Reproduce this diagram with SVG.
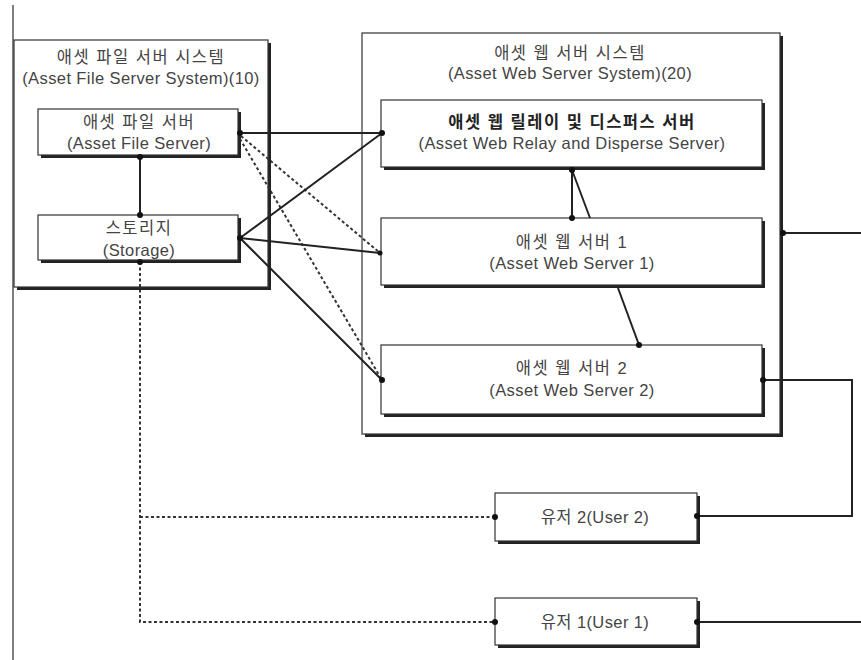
<svg xmlns="http://www.w3.org/2000/svg" width="861" height="660" viewBox="0 0 861 660">
<style>
.box{fill:#fff;stroke:#333;stroke-width:1.2}
.sh{fill:#222}
.t{font-family:"Liberation Sans","Noto Sans CJK KR",sans-serif;font-size:16.5px;fill:#444;text-anchor:middle;letter-spacing:0.4px}
.k{letter-spacing:1.5px}
.b{font-weight:bold;fill:#222}
.c{fill:none;stroke:#222;stroke-width:2}
.d{fill:none;stroke:#333;stroke-width:2;stroke-dasharray:3,2.5}
.dot{fill:#111}
</style>
<rect width="861" height="660" fill="#fff"/>
<line x1="13" y1="5" x2="13" y2="660" stroke="#555" stroke-width="1.5"/>

<g id="file-server-system">
<rect class="sh" x="17" y="43" width="254" height="247"/>
<rect class="box" x="14" y="40" width="254" height="247"/>
<text class="t k" x="141" y="63">애셋 파일 서버 시스템</text>
<text class="t" x="141" y="84">(Asset File Server System)(10)</text>
</g>
<g id="asset-file-server">
<rect class="sh" x="41" y="112" width="200" height="46"/>
<rect class="box" x="38" y="109" width="200" height="46"/>
<text class="t k" x="139" y="128">애셋 파일 서버</text>
<text class="t" x="139" y="149">(Asset File Server)</text>
</g>
<g id="storage">
<rect class="sh" x="41" y="218" width="200" height="45"/>
<rect class="box" x="38" y="215" width="200" height="45"/>
<text class="t k" x="139" y="234">스토리지</text>
<text class="t" x="139" y="256">(Storage)</text>
</g>

<g id="web-server-system">
<rect class="sh" x="365" y="36" width="418" height="401"/>
<rect class="box" x="362" y="33" width="418" height="401"/>
<text class="t k" x="570" y="59">애셋 웹 서버 시스템</text>
<text class="t" x="570" y="79">(Asset Web Server System)(20)</text>
</g>
<g id="relay-server">
<rect class="sh" x="384" y="103" width="381" height="67"/>
<rect class="box" x="381" y="100" width="381" height="67"/>
<text class="t k b" x="572" y="128">애셋 웹 릴레이 및 디스퍼스 서버</text>
<text class="t" x="572" y="149">(Asset Web Relay and Disperse Server)</text>
</g>
<g id="web-server-1">
<rect class="sh" x="384" y="221" width="381" height="67"/>
<rect class="box" x="381" y="218" width="381" height="67"/>
<text class="t k" x="572" y="248">애셋 웹 서버 1</text>
<text class="t" x="572" y="269">(Asset Web Server 1)</text>
</g>
<g id="web-server-2">
<rect class="sh" x="384" y="348" width="381" height="69"/>
<rect class="box" x="381" y="345" width="381" height="69"/>
<text class="t k" x="572" y="374">애셋 웹 서버 2</text>
<text class="t" x="572" y="396">(Asset Web Server 2)</text>
</g>
<g id="user-2">
<rect class="sh" x="498" y="496" width="202" height="48"/>
<rect class="box" x="495" y="493" width="202" height="48"/>
<text class="t" x="595" y="523">유저 2(User 2)</text>
</g>
<g id="user-1">
<rect class="sh" x="498" y="601" width="202" height="47"/>
<rect class="box" x="495" y="598" width="202" height="47"/>
<text class="t" x="595" y="628">유저 1(User 1)</text>
</g>

<g id="connectors">
<line class="c" x1="140" y1="155" x2="140" y2="215"/>
<path class="d" d="M140,262 V622 H495 M140,517 H495"/>
<line class="c" x1="240" y1="133" x2="382" y2="133"/>
<line class="d" x1="241" y1="136" x2="380" y2="253"/>
<line class="d" x1="240" y1="139" x2="382" y2="380"/>
<line class="c" x1="240" y1="238" x2="382" y2="133"/>
<line class="c" x1="240" y1="238" x2="380" y2="253"/>
<line class="c" x1="240" y1="238" x2="382" y2="380"/>
<line class="c" x1="572" y1="170" x2="572" y2="218"/>
<line class="c" x1="572" y1="170" x2="590" y2="218"/>
<line class="c" x1="618" y1="288" x2="639" y2="345"/>
<line class="c" x1="783" y1="233" x2="861" y2="233"/>
<path class="c" d="M763,380 H852 V516 H697"/>
<line class="c" x1="697" y1="622" x2="861" y2="622"/>
<circle class="dot" cx="140" cy="157" r="3"/>
<circle class="dot" cx="140" cy="215" r="3"/>
<circle class="dot" cx="140" cy="262" r="3"/>
<circle class="dot" cx="240" cy="133" r="3"/>
<circle class="dot" cx="240" cy="238" r="3"/>
<circle class="dot" cx="382" cy="133" r="3"/>
<circle class="dot" cx="380" cy="253" r="2.5"/>
<circle class="dot" cx="382" cy="380" r="3"/>
<circle class="dot" cx="572" cy="170" r="3"/>
<circle class="dot" cx="572" cy="218" r="3"/>
<circle class="dot" cx="639" cy="345" r="3"/>
<circle class="dot" cx="783" cy="233" r="3"/>
<circle class="dot" cx="763" cy="380" r="3"/>
<circle class="dot" cx="495" cy="517" r="3"/>
<circle class="dot" cx="495" cy="622" r="3"/>
<circle class="dot" cx="697" cy="516" r="3"/>
<circle class="dot" cx="697" cy="622" r="3"/>
</g>
</svg>
